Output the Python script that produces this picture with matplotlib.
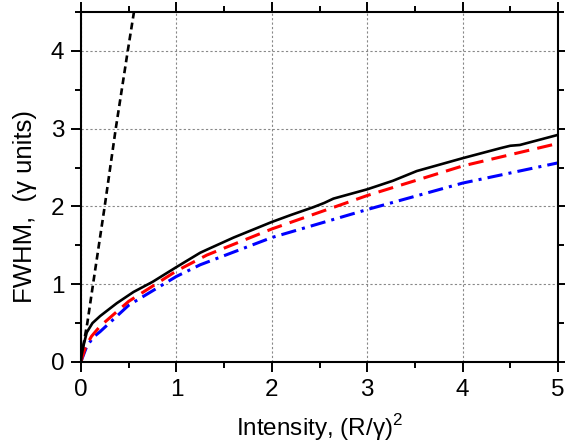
import matplotlib
matplotlib.use('Agg')
import matplotlib.pyplot as plt
from matplotlib.ticker import MultipleLocator

# values
black_x = [0, 0.005, 0.024, 0.06, 0.12, 0.2, 0.374, 0.55, 0.75, 1.0, 1.25, 1.33, 1.6,
           2.0, 2.2, 2.435, 2.55, 2.645, 3.0, 3.27, 3.52, 4.0, 4.4, 4.5, 4.6, 5.0]
black_y = [0, 0.08, 0.2, 0.38, 0.5, 0.59, 0.755, 0.90, 1.03, 1.22, 1.405, 1.45, 1.60,
           1.80, 1.89, 1.99, 2.045, 2.10, 2.22, 2.33, 2.455, 2.62, 2.75, 2.78, 2.79, 2.92]

red_x = [0, 0.01, 0.05, 0.11, 0.2, 0.5, 1.0, 1.32, 2.0, 3.0, 3.13, 4.0, 5.0]
red_y = [0, 0.05, 0.2, 0.33, 0.46, 0.78, 1.17, 1.375, 1.71, 2.14, 2.19, 2.52, 2.81]

blue_x = [0, 0.01, 0.06, 0.13, 0.2, 0.5, 1.0, 1.25, 2.0, 3.0, 4.0, 5.0]
blue_y = [0, 0.04, 0.2, 0.32, 0.39, 0.73, 1.10, 1.25, 1.60, 1.96, 2.30, 2.56]

dot_x = [0, 0.066, 0.126, 0.248, 0.364, 0.49, 0.555]
dot_y = [0.05, 0.5, 1.0, 2.0, 3.0, 4.0, 4.5]

plt.rcParams['font.family'] = ['Liberation Sans', 'DejaVu Sans']
plt.rcParams['mathtext.fontset'] = 'custom'
plt.rcParams['mathtext.rm'] = 'Liberation Sans'
plt.rcParams['font.size'] = 17.5


def main() -> None:
    fig = plt.figure(figsize=(5.65, 4.47), dpi=100)
    ax = fig.add_axes([0.1434, 0.1902, 0.8442, 0.783])

    ax.plot(dot_x, dot_y, color='black', lw=1.9, linestyle=(0, (2.6, 1.6)))
    ax.plot(blue_x, blue_y, color='#0000ff', lw=2.2, linestyle=(0, (5, 2, 1, 2)))
    ax.plot(red_x, red_y, color='#ff0000', lw=2.2, linestyle=(0, (5, 2.7)))
    ax.plot(black_x, black_y, color='black', lw=1.9)

    ax.set_xlim(0, 5)
    ax.set_ylim(0, 4.5)
    ax.xaxis.set_major_locator(MultipleLocator(1))
    ax.xaxis.set_minor_locator(MultipleLocator(0.5))
    ax.yaxis.set_major_locator(MultipleLocator(1))
    ax.yaxis.set_minor_locator(MultipleLocator(0.5))
    ax.tick_params(which='both', direction='out', top=True, right=True, width=1.4)
    ax.tick_params(which='major', length=7, pad=5)
    ax.tick_params(which='minor', length=4)
    ax.grid(True, which='major', color='#888888', linestyle=(0, (2, 2)), lw=0.8)
    for s in ax.spines.values():
        s.set_linewidth(1.5)

    ax.set_xlabel('Intensity, (R/\u03b3)$^2$', labelpad=8)
    ax.set_ylabel('FWHM,  (\u03b3 units)', labelpad=10, fontsize=18.5)
    ax.yaxis.label.set_y(0.443)

    fig.savefig('out.png', dpi=100)
    plt.close(fig)


if __name__ == '__main__':
    main()
